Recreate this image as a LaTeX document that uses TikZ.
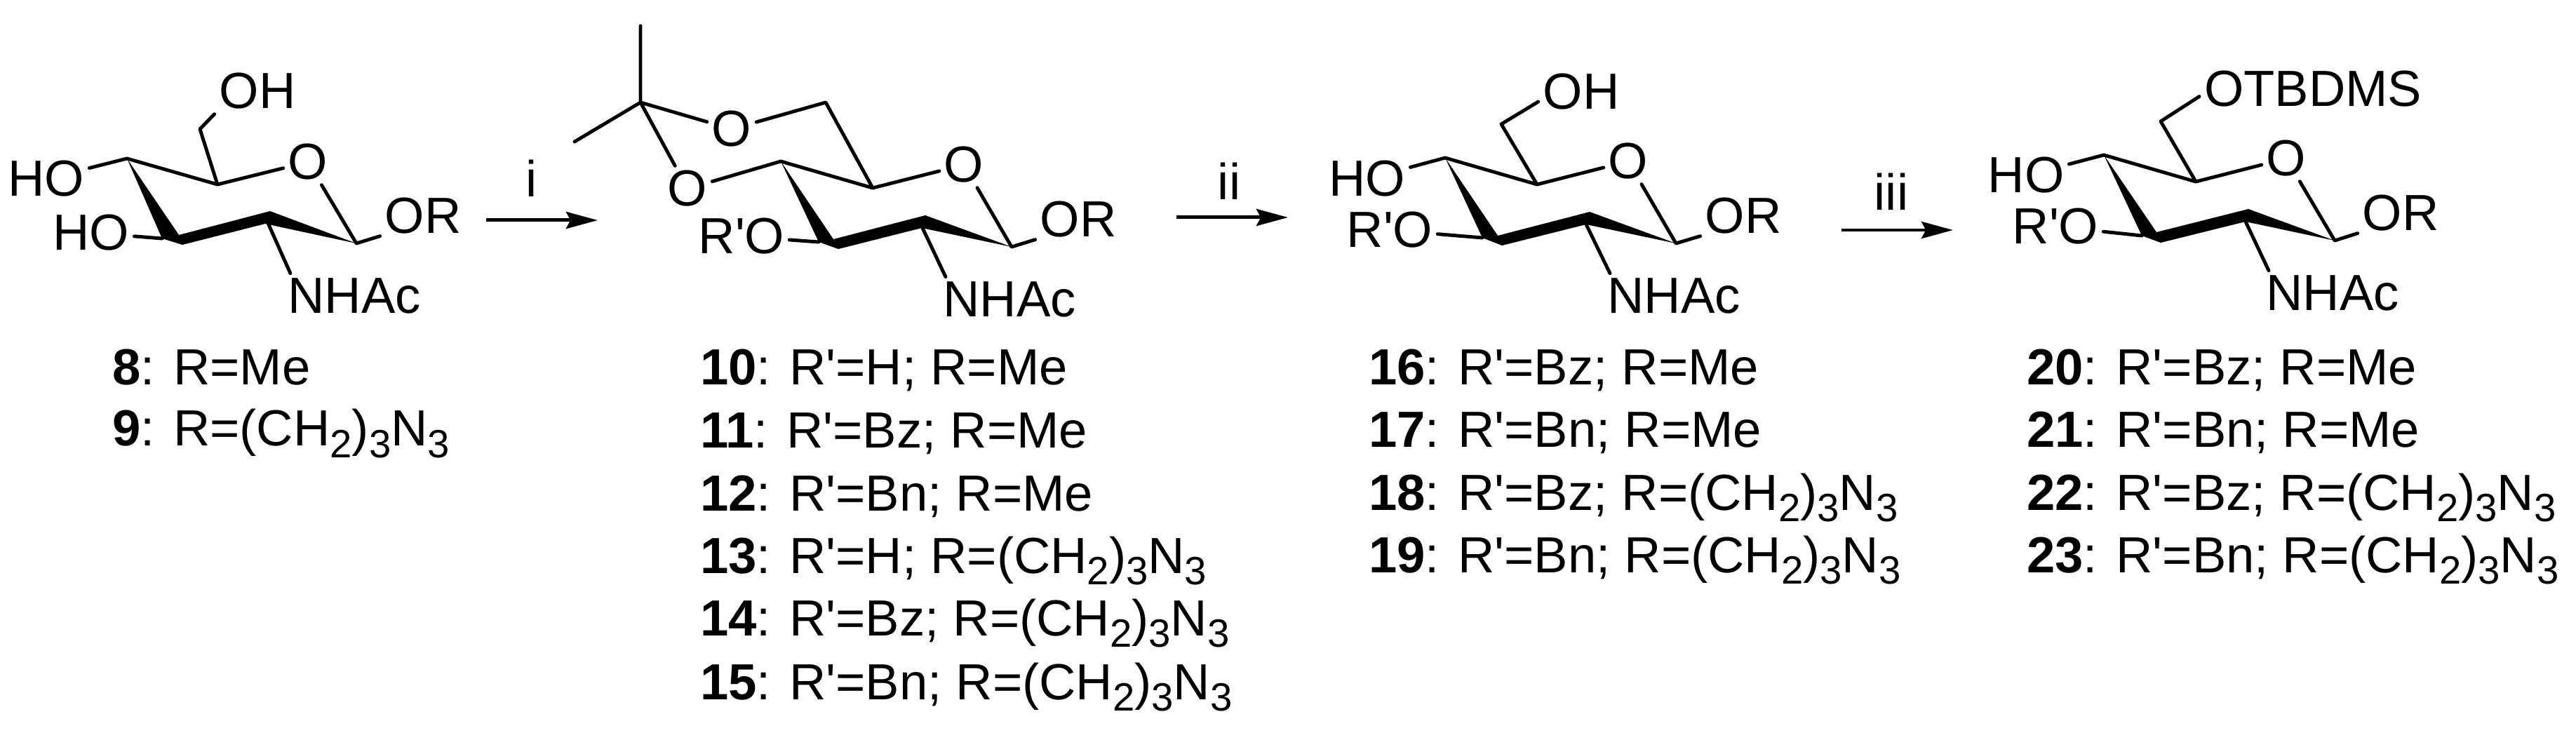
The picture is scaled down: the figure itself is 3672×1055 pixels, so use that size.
\documentclass[tikz,border=0pt]{standalone}
\usepackage{fontspec}
\usepackage{tikz}
\usetikzlibrary{arrows.meta}
\newfontfamily\chemfont{Liberation Sans}
\newcommand{\lowr}[1]{\raisebox{-4.6pt}{\fontsize{16}{18}\selectfont #1}}
\tikzset{
  atom/.style={inner sep=2pt,outer sep=0pt,font=\chemfont\fontsize{20.6}{24}\selectfont},
  capt/.style={inner sep=0pt,outer sep=0pt,anchor=base west,font=\chemfont\fontsize{20.6}{24}\selectfont},
  bond/.style={line width=1.4pt,line cap=round,line join=round},
  rxn/.style={line width=1.42pt,-{Stealth[length=12.8pt,width=6.8pt,inset=1.8pt]}}
}
\begin{document}
\begin{tikzpicture}[x=0.01cm,y=-0.01cm]
    \useasboundingbox (0,0) rectangle (3672,1055);

    \coordinate (a1) at (508,347);
    \coordinate (a2) at (382,318);
    \coordinate (a3) at (231,340);
    \coordinate (a4) at (181,226);
    \coordinate (a5) at (310,263);
    \coordinate (a6) at (285,184);
    \node[atom] (ao) at (439,231) {O};
    \node[atom] (aoh) at (367,130) {OH};
    \node[atom] (aho1) at (66,255) {HO};
    \node[atom] (aho2) at (130,332) {HO};
    \node[atom] (aor) at (603,308) {OR};
    \node[atom] (anh) at (505,422) {NHAc};
    \fill (a4)--(255,335)--(385,301)--(a1)--(378,319)--(260,349)--(a3)--cycle;
    \draw[bond] (a4)--(aho1)
          (a4)--(a5)--(ao)--(a1)--(aor.205)
          (a5)--(a6)--(aoh.south west)
          (a3)--(aho2)
          (a2)--([xshift=3pt]anh.north west)
          ;

    \node[atom] (i) at (758,254) {i};
    \coordinate (i1) at (693,314);
    \coordinate (i2) at (852,314);
    \draw[rxn] (i1)--(i2);

    \coordinate (b1) at (1442,352);
    \coordinate (b2) at (1315,325);
    \coordinate (b3) at (1167,345);
    \coordinate (b4) at (1113,230);
    \coordinate (b5) at (1244,268);
    \coordinate (b6) at (1177,146);
    \coordinate (b7) at (913,146);
    \coordinate (b8) at (913,37);
    \coordinate (b9) at (819,202);
    \node[atom] (bo) at (1374,235) {O};
    \node[atom] (bo1) at (1043,184) {O};
    \node[atom] (bo2) at (980,269) {O};
    \node[atom] (bro) at (1057,337) {R'O};
    \node[atom] (bor) at (1537,313) {OR};
    \node[atom] (bnh) at (1439,427) {NHAc};
    \fill (b4)--(1188,341)--(1319,307)--(b1)--(1314,325)--(1195,355)--(b3)--cycle;
    \draw[bond] (b8)--(b7)--(b9)
          (b7)--(bo1)--(b6)--(b5)
          (b7)--(bo2)--(b4)--(b5)--(bo)--(b1)--(bor.205)
          (b3)--(bro)
          (b2)--([xshift=3pt]bnh.north west)
          ;

    \node[atom] (ii) at (1752,258) {ii};
    \coordinate (ii1) at (1677,310);
    \coordinate (ii2) at (1836,310);
    \draw[rxn] (ii1)--(ii2);

    \coordinate (c1) at (2389,347);
    \coordinate (c2) at (2261,320);
    \coordinate (c3) at (2113,339);
    \coordinate (c4) at (2060,225);
    \coordinate (c5) at (2191,263);
    \coordinate (c6) at (2140,177);
    \node[atom] (co) at (2321,230) {O};
    \node[atom] (coh) at (2254,131) {OH};
    \node[atom] (cho) at (1949,255) {HO};
    \node[atom] (cro) at (1981,328) {R'O};
    \node[atom] (cor) at (2485,308) {OR};
    \node[atom] (cnh) at (2386,422) {NHAc};
    \fill (c4)--(2135,336)--(2266,302)--(c1)--(2261,320)--(2141,350)--(c3)--cycle;
    \draw[bond] (c4)--(cho)
          (c4)--(c5)--(co)--(c1)--(cor.205)
          (c5)--(c6)--([yshift=-4pt]coh.west)
          (c3)--(cro)
          (c2)--([xshift=3pt]cnh.north west)
          ;

    \node[atom] (iii) at (2696,273) {iii};
    \coordinate (iii1) at (2625,328);
    \coordinate (iii2) at (2784,328);
    \draw[rxn] (iii1)--(iii2);

    \coordinate (d1) at (3328,343);
    \coordinate (d2) at (3201,316);
    \coordinate (d3) at (3053,336);
    \coordinate (d4) at (2999,221);
    \coordinate (d5) at (3130,259);
    \coordinate (d6) at (3080,173);
    \node[atom] (do) at (3259,226) {O};
    \node[atom] (dtb) at (3297,127) {OTBDMS};
    \node[atom] (dho) at (2888,250) {HO};
    \node[atom] (dro) at (2930,323) {R'O};
    \node[atom] (dor) at (3422,304) {OR};
    \node[atom] (dnh) at (3325,418) {NHAc};
    \fill (d4)--(3074,331)--(3205,298)--(d1)--(3201,316)--(3080,346)--(d3)--cycle;
    \draw[bond] (d4)--(dho)
          (d4)--(d5)--(do)--(d1)--(dor.205)
          (d5)--(d6)--([yshift=-3pt]dtb.west)
          (d3)--(dro)
          (d2)--([xshift=3pt]dnh.north west)
          ;

    \node[capt] (8) at (160,548) {\textbf{8}: R=Me};
    \node[capt] (9) at (160,636) {\textbf{9}: R=(CH\lowr{2})\lowr{3}N\lowr{3}};

    \node[capt] (10) at (998,548) {\textbf{10}: R'=H; R=Me};
    \node[capt] (11) at (998,638) {\textbf{11}: R'=Bz; R=Me};
    \node[capt] (12) at (998,728) {\textbf{12}: R'=Bn; R=Me};
    \node[capt] (13) at (998,817) {\textbf{13}: R'=H; R=(CH\lowr{2})\lowr{3}N\lowr{3}};
    \node[capt] (14) at (998,906) {\textbf{14}: R'=Bz; R=(CH\lowr{2})\lowr{3}N\lowr{3}};
    \node[capt] (15) at (998,997) {\textbf{15}: R'=Bn; R=(CH\lowr{2})\lowr{3}N\lowr{3}};

    \node[capt] (16) at (1951,548) {\textbf{16}: R'=Bz; R=Me};
    \node[capt] (17) at (1951,637) {\textbf{17}: R'=Bn; R=Me};
    \node[capt] (18) at (1951,727) {\textbf{18}: R'=Bz; R=(CH\lowr{2})\lowr{3}N\lowr{3}};
    \node[capt] (19) at (1951,816) {\textbf{19}: R'=Bn; R=(CH\lowr{2})\lowr{3}N\lowr{3}};

    \node[capt] (20) at (2889,548) {\textbf{20}: R'=Bz; R=Me};
    \node[capt] (21) at (2889,637) {\textbf{21}: R'=Bn; R=Me};
    \node[capt] (22) at (2889,727) {\textbf{22}: R'=Bz; R=(CH\lowr{2})\lowr{3}N\lowr{3}};
    \node[capt] (23) at (2889,816) {\textbf{23}: R'=Bn; R=(CH\lowr{2})\lowr{3}N\lowr{3}};
\end{tikzpicture}
\end{document}
